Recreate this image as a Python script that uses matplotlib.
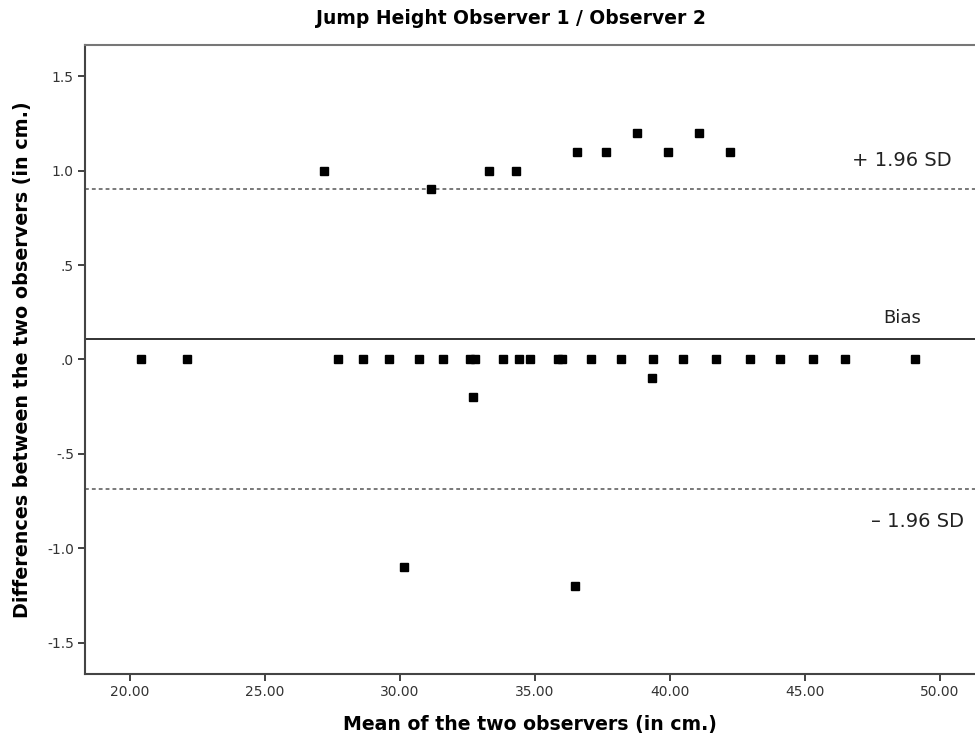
import matplotlib
matplotlib.use("Agg")
import matplotlib.pyplot as plt
from matplotlib.ticker import FixedLocator

# mean of the two observers (cm) and difference observer1 - observer2 (cm)
mean_zero = [20.40, 22.10, 27.70, 28.61, 29.60, 30.69, 31.61, 32.60, 32.79,
             33.81, 34.39, 34.81, 35.87, 36.00, 37.09, 38.20, 39.38, 40.49,
             41.71, 42.98, 44.09, 45.29, 46.50, 49.09]
diff_zero = [0.0] * len(mean_zero)

mean_other = [27.20, 31.16, 33.29, 34.30, 36.54, 37.64, 38.79, 39.93, 41.09,
              42.24, 39.35, 32.70, 30.14, 36.50]
diff_other = [1.0, 0.9, 1.0, 1.0, 1.1, 1.1, 1.2, 1.1, 1.2,
              1.1, -0.1, -0.2, -1.1, -1.2]

bias = 0.107
upper_loa = 0.90
lower_loa = -0.687

x_ticks = [20, 25, 30, 35, 40, 45, 50]
x_labels = ["20.00", "25.00", "30.00", "35.00", "40.00", "45.00", "50.00"]
y_ticks = [1.5, 1.0, 0.5, 0.0, -0.5, -1.0, -1.5]
y_labels = ["1.5", "1.0", ".5", ".0", "-.5", "-1.0", "-1.5"]

fig = plt.figure(figsize=(9.75, 7.42), dpi=100)
ax = fig.add_axes([85 / 975, 1 - 674.3 / 742, 890 / 975, (674.3 - 45) / 742])

ax.axhline(bias, color="#222222", lw=1.3, zorder=2)
ax.axhline(upper_loa, color="#555555", lw=1.1, ls=(0, (2.5, 2.0)), zorder=2)
ax.axhline(lower_loa, color="#555555", lw=1.1, ls=(0, (2.5, 2.0)), zorder=2)

ax.plot(mean_zero + mean_other, diff_zero + diff_other, ls="none",
        marker="s", ms=6.3, color="black", mec="black", zorder=3)

ax.text(0.974, 0.817, "+ 1.96 SD", transform=ax.transAxes, ha="right",
        va="center", fontsize=14, color="#222222")
ax.text(0.940, 0.566, "Bias", transform=ax.transAxes, ha="right",
        va="center", fontsize=13, color="#222222")
ax.text(0.988, 0.2425, "\u2013 1.96 SD", transform=ax.transAxes, ha="right",
        va="center", fontsize=14, color="#222222")

ax.set_xlim(18.33, 51.3)
ax.set_ylim(-1.667, 1.665)
ax.xaxis.set_major_locator(FixedLocator(x_ticks))
ax.set_xticklabels(x_labels)
ax.yaxis.set_major_locator(FixedLocator(y_ticks))
ax.set_yticklabels(y_labels)
ax.tick_params(direction="out", length=5, width=1.3, color="#333333",
               labelsize=10, labelcolor="#333333", pad=3)

for side in ["left", "bottom", "top"]:
    ax.spines[side].set_color("#444444")
    ax.spines[side].set_linewidth(1.5)
ax.spines["top"].set_color("#777777")
ax.spines["right"].set_visible(False)

ax.set_xlabel("Mean of the two observers (in cm.)", fontsize=13.6,
              fontweight="bold", labelpad=11)
ax.set_ylabel("Differences between the two observers (in cm.)", fontsize=13.8,
              fontweight="bold", labelpad=11)
fig.text(511 / 975, 1 - 19 / 742, "Jump Height Observer 1 / Observer 2",
         ha="center", va="center", fontsize=13.5, fontweight="bold")

fig.savefig("out.png", dpi=100)
